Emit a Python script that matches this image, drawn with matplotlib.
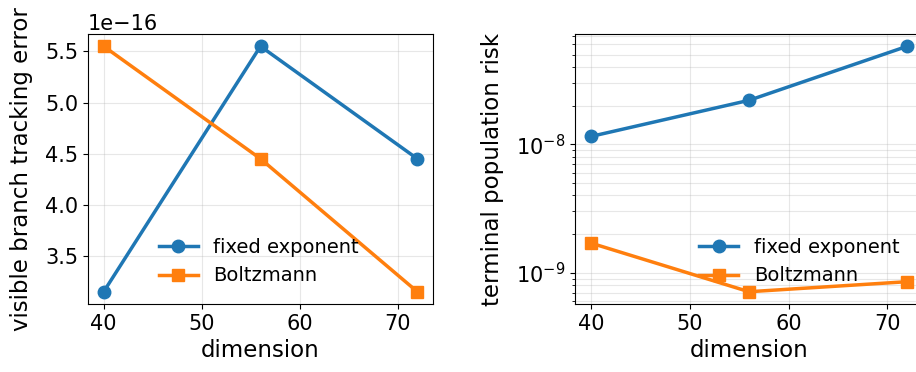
import matplotlib
matplotlib.use("Agg")
import matplotlib.pyplot as plt

dims = [40, 56, 72]
err_fixed = [3.15e-16, 5.55e-16, 4.45e-16]
err_boltz = [5.55e-16, 4.45e-16, 3.15e-16]
risk_fixed = [1.15e-8, 2.2e-8, 5.8e-8]
risk_boltz = [1.7e-9, 7.1e-10, 8.5e-10]
labels = ["fixed exponent", "Boltzmann"]

plt.rcParams.update({"font.size": 15, "axes.labelsize": 16.5,
                     "xtick.labelsize": 15, "ytick.labelsize": 15,
                     "legend.fontsize": 14})
W, H = 916, 372
fig = plt.figure(figsize=(W / 100, H / 100), dpi=100)
ax1 = fig.add_axes([88 / W, (H - 304) / H, 345 / W, 270 / H])
ax2 = fig.add_axes([575 / W, (H - 304) / H, 348 / W, 270 / H])

ax1.plot(dims, err_fixed, marker="o", lw=2.5, ms=9, color="#1f77b4", label=labels[0])
ax1.plot(dims, err_boltz, marker="s", lw=2.5, ms=9, color="#ff7f0e", label=labels[1])
ax1.set_xlabel("dimension")
ax1.set_ylabel("visible branch tracking error", labelpad=8.5)
ax1.grid(True, alpha=0.3)
ax1.legend(frameon=False, loc="center left", bbox_to_anchor=(0.154, 0.157))

ax2.plot(dims, risk_fixed, marker="o", lw=2.5, ms=9, color="#1f77b4", label=labels[0])
ax2.plot(dims, risk_boltz, marker="s", lw=2.5, ms=9, color="#ff7f0e", label=labels[1])
ax2.set_yscale("log")
ax2.set_xlabel("dimension")
ax2.set_ylabel("terminal population risk", labelpad=8.5)
ax2.grid(True, which="both", alpha=0.3)
ax2.legend(frameon=False, loc="center left", bbox_to_anchor=(0.307, 0.157))

fig.savefig("out.png", dpi=100)
